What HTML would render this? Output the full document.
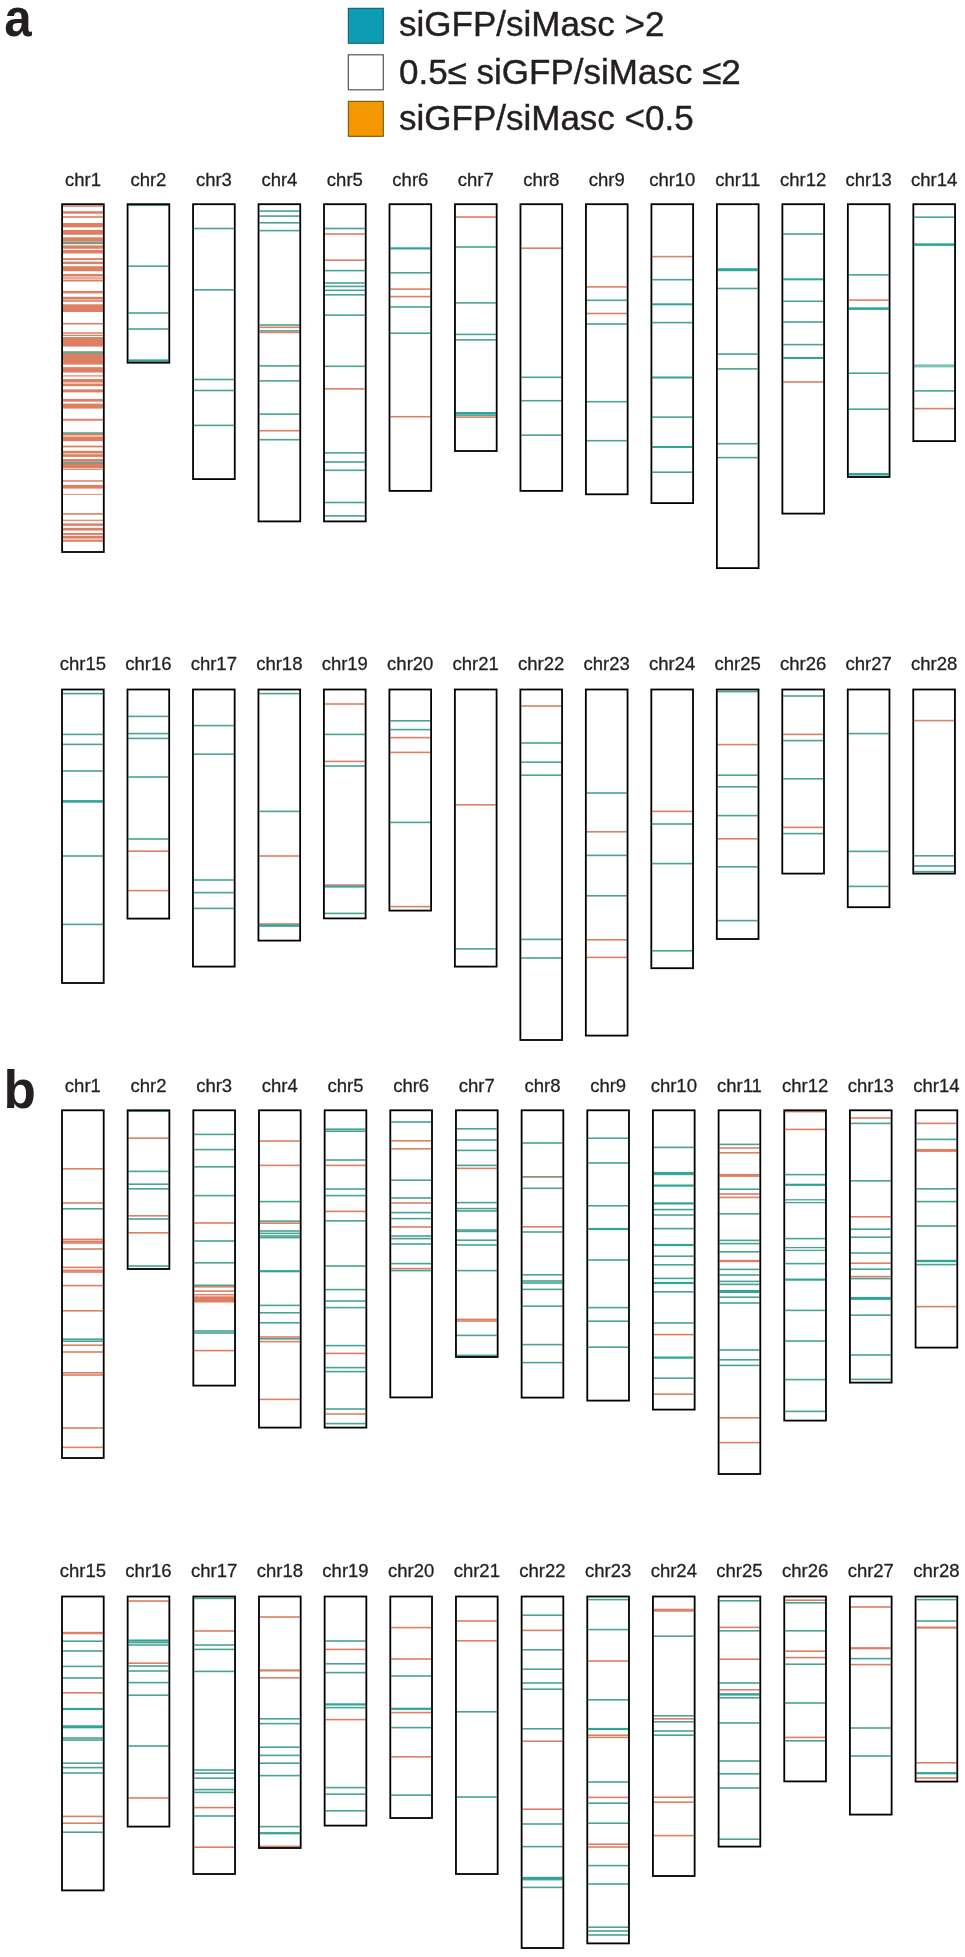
<!DOCTYPE html>
<html><head><meta charset="utf-8"><style>
html,body{margin:0;padding:0;background:#fff;width:965px;height:1957px;overflow:hidden}
svg{display:block;will-change:transform}
.lb{font-family:"Liberation Sans",sans-serif;font-size:18.5px;fill:#231f20;stroke:#231f20;stroke-width:0.3px;text-anchor:middle}
.lg{font-family:"Liberation Sans",sans-serif;font-size:35px;fill:#231f20;stroke:#231f20;stroke-width:0.4px}
.pl{font-family:"Liberation Sans",sans-serif;font-size:53px;font-weight:bold;fill:#231f20}
.bx{fill:none;stroke:#000;stroke-width:1.8}
</style></head><body>
<svg width="965" height="1957" viewBox="0 0 965 1957">

<rect x="348.3" y="8.3" width="35" height="35" fill="#0e9bb4" stroke="#0b5566" stroke-width="1"/>
<rect x="348.3" y="54.8" width="35" height="35" fill="#fff" stroke="#555" stroke-width="1.2"/>
<rect x="348.3" y="101.3" width="35" height="35" fill="#f39800" stroke="#6b4a10" stroke-width="1"/>
<text x="399" y="36.4" class="lg">siGFP/siMasc &gt;2</text>
<text x="399" y="83.6" class="lg">0.5≤ siGFP/siMasc ≤2</text>
<text x="399" y="130" class="lg">siGFP/siMasc &lt;0.5</text>
<text x="0" y="36" class="pl" transform="translate(4.3,0) scale(0.93,1)">a</text>
<text x="3.5" y="1108" class="pl">b</text>

<text x="82.95" y="186.4" class="lb">chr1</text>
<rect x="63" y="205.3" width="39.9" height="1.5" fill="#de7f64"/>
<rect x="63" y="211.2" width="39.9" height="2.5" fill="#de7f64"/>
<rect x="63" y="215.9" width="39.9" height="2.1" fill="#e9957e"/>
<rect x="63" y="223" width="39.9" height="4.4" fill="#de7f64"/>
<rect x="63" y="229.9" width="39.9" height="4.9" fill="#de7f64"/>
<rect x="63" y="237.3" width="39.9" height="4.1" fill="#de7f64"/>
<rect x="63" y="241.4" width="39.9" height="2.8" fill="#7d9c86"/>
<rect x="63" y="245.4" width="39.9" height="3.4" fill="#de7f64"/>
<rect x="63" y="250" width="39.9" height="3.5" fill="#de7f64"/>
<rect x="63" y="258.1" width="39.9" height="1.9" fill="#de7f64"/>
<rect x="63" y="261.6" width="39.9" height="2.5" fill="#de7f64"/>
<rect x="63" y="266.2" width="39.9" height="5" fill="#de7f64"/>
<rect x="63" y="274" width="39.9" height="2.5" fill="#de7f64"/>
<rect x="63" y="277.4" width="39.9" height="1.3" fill="#de7f64"/>
<rect x="63" y="279.6" width="39.9" height="1.9" fill="#de7f64"/>
<rect x="63" y="290.9" width="39.9" height="2.5" fill="#de7f64"/>
<rect x="63" y="296.8" width="39.9" height="2.8" fill="#de7f64"/>
<rect x="63" y="300.2" width="39.9" height="1.6" fill="#de7f64"/>
<rect x="63" y="304.3" width="39.9" height="7.7" fill="#de7f64"/>
<rect x="63" y="322.9" width="39.9" height="1.6" fill="#de7f64"/>
<rect x="63" y="332.3" width="39.9" height="1.5" fill="#de7f64"/>
<rect x="63" y="334.8" width="39.9" height="1.2" fill="#de7f64"/>
<rect x="63" y="337" width="39.9" height="9.6" fill="#de7f64"/>
<rect x="63" y="351.2" width="39.9" height="2.8" fill="#7d9c86"/>
<rect x="63" y="354" width="39.9" height="10.6" fill="#de7f64"/>
<rect x="63" y="367.1" width="39.9" height="5.4" fill="#de7f64"/>
<rect x="63" y="375.3" width="39.9" height="1.2" fill="#de7f64"/>
<rect x="63" y="379" width="39.9" height="3.5" fill="#de7f64"/>
<rect x="63" y="383.5" width="39.9" height="2.7" fill="#de7f64"/>
<rect x="63" y="389.3" width="39.9" height="3.1" fill="#de7f64"/>
<rect x="63" y="398.9" width="39.9" height="2.8" fill="#de7f64"/>
<rect x="63" y="403.6" width="39.9" height="5" fill="#de7f64"/>
<rect x="63" y="418.8" width="39.9" height="1.9" fill="#de7f64"/>
<rect x="63" y="432.2" width="39.9" height="1.8" fill="#7d9c86"/>
<rect x="63" y="434" width="39.9" height="1.5" fill="#de7f64"/>
<rect x="63" y="436.5" width="39.9" height="4.7" fill="#de7f64"/>
<rect x="63" y="445.6" width="39.9" height="1.8" fill="#de7f64"/>
<rect x="63" y="450.8" width="39.9" height="2.7" fill="#de7f64"/>
<rect x="63" y="454.2" width="39.9" height="2.7" fill="#de7f64"/>
<rect x="63" y="459" width="39.9" height="2.8" fill="#de7f64"/>
<rect x="63" y="461.8" width="39.9" height="2.2" fill="#7d9c86"/>
<rect x="63" y="464" width="39.9" height="4.4" fill="#de7f64"/>
<rect x="63" y="469" width="39.9" height="0.9" fill="#de7f64"/>
<rect x="63" y="480.2" width="39.9" height="1.5" fill="#de7f64"/>
<rect x="63" y="484.9" width="39.9" height="3.7" fill="#de7f64"/>
<rect x="63" y="493.9" width="39.9" height="0.9" fill="#de7f64"/>
<rect x="63" y="513.1" width="39.9" height="1.6" fill="#de7f64"/>
<rect x="63" y="519.7" width="39.9" height="1.2" fill="#de7f64"/>
<rect x="63" y="523.4" width="39.9" height="2.5" fill="#de7f64"/>
<rect x="63" y="527.8" width="39.9" height="2.8" fill="#de7f64"/>
<rect x="63" y="533" width="39.9" height="1.9" fill="#de7f64"/>
<rect x="63" y="535.8" width="39.9" height="2.8" fill="#de7f64"/>
<rect x="63" y="539.6" width="39.9" height="2.2" fill="#de7f64"/>
<rect x="62.1" y="204.2" width="41.7" height="347.8" class="bx"/>
<text x="148.43" y="186.4" class="lb">chr2</text>
<rect x="128.48" y="204.5" width="39.9" height="1.6" fill="#48a494"/>
<rect x="128.48" y="265.4" width="39.9" height="1.6" fill="#48a494"/>
<rect x="128.48" y="312.2" width="39.9" height="1.6" fill="#48a494"/>
<rect x="128.48" y="328.2" width="39.9" height="1.6" fill="#48a494"/>
<rect x="128.48" y="359.35" width="39.9" height="2.5" fill="#2ea597"/>
<rect x="127.58" y="204.2" width="41.7" height="158.5" class="bx"/>
<text x="213.91" y="186.4" class="lb">chr3</text>
<rect x="193.96" y="227.7" width="39.9" height="1.6" fill="#48a494"/>
<rect x="193.96" y="289.1" width="39.9" height="1.6" fill="#48a494"/>
<rect x="193.96" y="378.7" width="39.9" height="1.6" fill="#48a494"/>
<rect x="193.96" y="389.7" width="39.9" height="1.6" fill="#48a494"/>
<rect x="193.96" y="424.6" width="39.9" height="1.6" fill="#48a494"/>
<rect x="193.06" y="204.2" width="41.7" height="274.9" class="bx"/>
<text x="279.39" y="186.4" class="lb">chr4</text>
<rect x="259.44" y="210.3" width="39.9" height="1.6" fill="#48a494"/>
<rect x="259.44" y="215.3" width="39.9" height="1.6" fill="#48a494"/>
<rect x="259.44" y="222" width="39.9" height="1.6" fill="#48a494"/>
<rect x="259.44" y="229.8" width="39.9" height="1.6" fill="#48a494"/>
<rect x="259.44" y="324.2" width="39.9" height="1.6" fill="#48a494"/>
<rect x="259.44" y="326.5" width="39.9" height="1.6" fill="#de7f64"/>
<rect x="259.44" y="330.1" width="39.9" height="1.6" fill="#48a494"/>
<rect x="259.44" y="331.6" width="39.9" height="1.6" fill="#de7f64"/>
<rect x="259.44" y="365.1" width="39.9" height="1.6" fill="#48a494"/>
<rect x="259.44" y="380.1" width="39.9" height="1.6" fill="#48a494"/>
<rect x="259.44" y="413.3" width="39.9" height="1.6" fill="#48a494"/>
<rect x="259.44" y="429.9" width="39.9" height="1.6" fill="#de7f64"/>
<rect x="259.44" y="438.9" width="39.9" height="1.6" fill="#48a494"/>
<rect x="258.54" y="204.2" width="41.7" height="317.2" class="bx"/>
<text x="344.87" y="186.4" class="lb">chr5</text>
<rect x="324.92" y="227.7" width="39.9" height="1.6" fill="#48a494"/>
<rect x="324.92" y="233.2" width="39.9" height="1.6" fill="#de7f64"/>
<rect x="324.92" y="259.4" width="39.9" height="1.6" fill="#de7f64"/>
<rect x="324.92" y="269.8" width="39.9" height="1.6" fill="#48a494"/>
<rect x="324.92" y="282.2" width="39.9" height="1.6" fill="#48a494"/>
<rect x="324.92" y="285.6" width="39.9" height="1.6" fill="#48a494"/>
<rect x="324.92" y="289.5" width="39.9" height="1.6" fill="#48a494"/>
<rect x="324.92" y="294" width="39.9" height="1.6" fill="#48a494"/>
<rect x="324.92" y="314.3" width="39.9" height="1.6" fill="#48a494"/>
<rect x="324.92" y="365.5" width="39.9" height="1.6" fill="#48a494"/>
<rect x="324.92" y="388.1" width="39.9" height="1.6" fill="#de7f64"/>
<rect x="324.92" y="452.1" width="39.9" height="1.6" fill="#48a494"/>
<rect x="324.92" y="461.2" width="39.9" height="1.6" fill="#48a494"/>
<rect x="324.92" y="469.5" width="39.9" height="1.6" fill="#48a494"/>
<rect x="324.92" y="501.7" width="39.9" height="1.6" fill="#48a494"/>
<rect x="324.92" y="515.1" width="39.9" height="1.6" fill="#48a494"/>
<rect x="324.02" y="204.2" width="41.7" height="317.2" class="bx"/>
<text x="410.35" y="186.4" class="lb">chr6</text>
<rect x="390.4" y="247.3" width="39.9" height="2.2" fill="#2ea597"/>
<rect x="390.4" y="272" width="39.9" height="1.6" fill="#48a494"/>
<rect x="390.4" y="288.3" width="39.9" height="1.6" fill="#de7f64"/>
<rect x="390.4" y="295.8" width="39.9" height="1.6" fill="#de7f64"/>
<rect x="390.4" y="306.2" width="39.9" height="1.6" fill="#48a494"/>
<rect x="390.4" y="332.4" width="39.9" height="1.6" fill="#48a494"/>
<rect x="390.4" y="415.9" width="39.9" height="1.6" fill="#de7f64"/>
<rect x="389.5" y="204.2" width="41.7" height="286.7" class="bx"/>
<text x="475.83" y="186.4" class="lb">chr7</text>
<rect x="455.88" y="216.2" width="39.9" height="1.6" fill="#de7f64"/>
<rect x="455.88" y="246.2" width="39.9" height="1.6" fill="#48a494"/>
<rect x="455.88" y="302.1" width="39.9" height="1.6" fill="#48a494"/>
<rect x="455.88" y="333.6" width="39.9" height="1.6" fill="#48a494"/>
<rect x="455.88" y="339.1" width="39.9" height="1.6" fill="#48a494"/>
<rect x="455.88" y="412" width="39.9" height="2.4" fill="#2ea597"/>
<rect x="455.88" y="414.3" width="39.9" height="1.6" fill="#48a494"/>
<rect x="455.88" y="416.3" width="39.9" height="1.6" fill="#de7f64"/>
<rect x="454.98" y="204.2" width="41.7" height="246.8" class="bx"/>
<text x="541.31" y="186.4" class="lb">chr8</text>
<rect x="521.36" y="247.4" width="39.9" height="1.6" fill="#de7f64"/>
<rect x="521.36" y="376.5" width="39.9" height="1.6" fill="#48a494"/>
<rect x="521.36" y="399.9" width="39.9" height="1.6" fill="#48a494"/>
<rect x="521.36" y="434.4" width="39.9" height="1.6" fill="#48a494"/>
<rect x="520.46" y="204.2" width="41.7" height="286.7" class="bx"/>
<text x="606.79" y="186.4" class="lb">chr9</text>
<rect x="586.84" y="286.1" width="39.9" height="1.6" fill="#de7f64"/>
<rect x="586.84" y="299.5" width="39.9" height="1.6" fill="#48a494"/>
<rect x="586.84" y="312.7" width="39.9" height="1.6" fill="#de7f64"/>
<rect x="586.84" y="323.2" width="39.9" height="1.6" fill="#48a494"/>
<rect x="586.84" y="400.9" width="39.9" height="1.6" fill="#48a494"/>
<rect x="586.84" y="439.9" width="39.9" height="1.6" fill="#48a494"/>
<rect x="585.94" y="204.2" width="41.7" height="290.1" class="bx"/>
<text x="672.27" y="186.4" class="lb">chr10</text>
<rect x="652.32" y="255.8" width="39.9" height="1.6" fill="#de7f64"/>
<rect x="652.32" y="278.9" width="39.9" height="1.6" fill="#48a494"/>
<rect x="652.32" y="303.3" width="39.9" height="2" fill="#2ea597"/>
<rect x="652.32" y="321.8" width="39.9" height="1.6" fill="#48a494"/>
<rect x="652.32" y="376.5" width="39.9" height="2" fill="#2ea597"/>
<rect x="652.32" y="416.3" width="39.9" height="1.6" fill="#48a494"/>
<rect x="652.32" y="446" width="39.9" height="2" fill="#2ea597"/>
<rect x="652.32" y="471.4" width="39.9" height="1.6" fill="#48a494"/>
<rect x="651.42" y="204.2" width="41.7" height="298.9" class="bx"/>
<text x="737.75" y="186.4" class="lb">chr11</text>
<rect x="717.8" y="268.2" width="39.9" height="3" fill="#2ea597"/>
<rect x="717.8" y="287.7" width="39.9" height="1.6" fill="#48a494"/>
<rect x="717.8" y="353.3" width="39.9" height="1.6" fill="#48a494"/>
<rect x="717.8" y="368.1" width="39.9" height="1.6" fill="#48a494"/>
<rect x="717.8" y="442.9" width="39.9" height="1.6" fill="#48a494"/>
<rect x="717.8" y="456.8" width="39.9" height="1.6" fill="#48a494"/>
<rect x="716.9" y="204.2" width="41.7" height="363.9" class="bx"/>
<text x="803.23" y="186.4" class="lb">chr12</text>
<rect x="783.28" y="233.2" width="39.9" height="1.6" fill="#48a494"/>
<rect x="783.28" y="278.3" width="39.9" height="2" fill="#2ea597"/>
<rect x="783.28" y="300.5" width="39.9" height="1.6" fill="#48a494"/>
<rect x="783.28" y="321.2" width="39.9" height="1.6" fill="#48a494"/>
<rect x="783.28" y="343.8" width="39.9" height="1.6" fill="#48a494"/>
<rect x="783.28" y="357" width="39.9" height="2" fill="#2ea597"/>
<rect x="783.28" y="381.2" width="39.9" height="1.6" fill="#de7f64"/>
<rect x="782.38" y="204.2" width="41.7" height="309.4" class="bx"/>
<text x="868.71" y="186.4" class="lb">chr13</text>
<rect x="848.76" y="274.1" width="39.9" height="1.6" fill="#48a494"/>
<rect x="848.76" y="299.3" width="39.9" height="1.6" fill="#de7f64"/>
<rect x="848.76" y="307.3" width="39.9" height="2.6" fill="#2ea597"/>
<rect x="848.76" y="372.4" width="39.9" height="1.6" fill="#48a494"/>
<rect x="848.76" y="408.4" width="39.9" height="1.6" fill="#48a494"/>
<rect x="848.76" y="473" width="39.9" height="2.6" fill="#2ea597"/>
<rect x="847.86" y="204.2" width="41.7" height="272.8" class="bx"/>
<text x="934.19" y="186.4" class="lb">chr14</text>
<rect x="914.24" y="216.4" width="39.9" height="1.6" fill="#48a494"/>
<rect x="914.24" y="243.3" width="39.9" height="2.6" fill="#2ea597"/>
<rect x="914.24" y="364.4" width="39.9" height="3" fill="#79c2b5"/>
<rect x="914.24" y="390.1" width="39.9" height="1.6" fill="#48a494"/>
<rect x="914.24" y="407.8" width="39.9" height="1.6" fill="#de7f64"/>
<rect x="913.34" y="204.2" width="41.7" height="236.9" class="bx"/>
<text x="82.85" y="669.7" class="lb">chr15</text>
<rect x="62.9" y="692.8" width="39.9" height="1.6" fill="#48a494"/>
<rect x="62.9" y="733.6" width="39.9" height="1.6" fill="#48a494"/>
<rect x="62.9" y="743.6" width="39.9" height="1.6" fill="#48a494"/>
<rect x="62.9" y="770.2" width="39.9" height="1.6" fill="#48a494"/>
<rect x="62.9" y="800.1" width="39.9" height="2.6" fill="#2ea597"/>
<rect x="62.9" y="855.2" width="39.9" height="1.6" fill="#48a494"/>
<rect x="62.9" y="923.6" width="39.9" height="1.6" fill="#48a494"/>
<rect x="62" y="689.5" width="41.7" height="293.5" class="bx"/>
<text x="148.33" y="669.7" class="lb">chr16</text>
<rect x="128.38" y="715.6" width="39.9" height="1.6" fill="#48a494"/>
<rect x="128.38" y="732.8" width="39.9" height="1.6" fill="#48a494"/>
<rect x="128.38" y="737.6" width="39.9" height="1.6" fill="#48a494"/>
<rect x="128.38" y="776.2" width="39.9" height="1.6" fill="#48a494"/>
<rect x="128.38" y="838.2" width="39.9" height="1.6" fill="#48a494"/>
<rect x="128.38" y="850.4" width="39.9" height="1.6" fill="#de7f64"/>
<rect x="128.38" y="889.8" width="39.9" height="1.6" fill="#de7f64"/>
<rect x="127.48" y="689.5" width="41.7" height="229.1" class="bx"/>
<text x="213.81" y="669.7" class="lb">chr17</text>
<rect x="193.86" y="724.8" width="39.9" height="1.6" fill="#48a494"/>
<rect x="193.86" y="753.4" width="39.9" height="1.6" fill="#48a494"/>
<rect x="193.86" y="879.2" width="39.9" height="1.6" fill="#48a494"/>
<rect x="193.86" y="891.8" width="39.9" height="1.6" fill="#48a494"/>
<rect x="193.86" y="907.6" width="39.9" height="1.6" fill="#48a494"/>
<rect x="192.96" y="689.5" width="41.7" height="277.1" class="bx"/>
<text x="279.29" y="669.7" class="lb">chr18</text>
<rect x="259.34" y="692.8" width="39.9" height="1.6" fill="#48a494"/>
<rect x="259.34" y="810.6" width="39.9" height="1.6" fill="#48a494"/>
<rect x="259.34" y="855.2" width="39.9" height="1.6" fill="#de7f64"/>
<rect x="259.34" y="923.2" width="39.9" height="1.6" fill="#de7f64"/>
<rect x="259.34" y="924.4" width="39.9" height="2.4" fill="#2ea597"/>
<rect x="258.44" y="689.5" width="41.7" height="251.1" class="bx"/>
<text x="344.77" y="669.7" class="lb">chr19</text>
<rect x="324.82" y="703.2" width="39.9" height="1.6" fill="#de7f64"/>
<rect x="324.82" y="733.6" width="39.9" height="1.6" fill="#48a494"/>
<rect x="324.82" y="760.6" width="39.9" height="1.6" fill="#de7f64"/>
<rect x="324.82" y="765.2" width="39.9" height="1.6" fill="#48a494"/>
<rect x="324.82" y="884.2" width="39.9" height="1.6" fill="#de7f64"/>
<rect x="324.82" y="885.6" width="39.9" height="2" fill="#2ea597"/>
<rect x="324.82" y="912.6" width="39.9" height="1.6" fill="#48a494"/>
<rect x="323.92" y="689.5" width="41.7" height="228.9" class="bx"/>
<text x="410.25" y="669.7" class="lb">chr20</text>
<rect x="390.3" y="720" width="39.9" height="1.6" fill="#48a494"/>
<rect x="390.3" y="728.8" width="39.9" height="1.6" fill="#48a494"/>
<rect x="390.3" y="736.8" width="39.9" height="1.6" fill="#de7f64"/>
<rect x="390.3" y="751.6" width="39.9" height="1.6" fill="#de7f64"/>
<rect x="390.3" y="821.6" width="39.9" height="1.6" fill="#48a494"/>
<rect x="390.3" y="905.8" width="39.9" height="1.6" fill="#de7f64"/>
<rect x="389.4" y="689.5" width="41.7" height="221.1" class="bx"/>
<text x="475.73" y="669.7" class="lb">chr21</text>
<rect x="455.78" y="804" width="39.9" height="1.6" fill="#de7f64"/>
<rect x="455.78" y="948" width="39.9" height="1.6" fill="#48a494"/>
<rect x="454.88" y="689.5" width="41.7" height="277.1" class="bx"/>
<text x="541.21" y="669.7" class="lb">chr22</text>
<rect x="521.26" y="705.2" width="39.9" height="1.6" fill="#de7f64"/>
<rect x="521.26" y="742.2" width="39.9" height="1.6" fill="#48a494"/>
<rect x="521.26" y="761.4" width="39.9" height="1.6" fill="#48a494"/>
<rect x="521.26" y="774.4" width="39.9" height="1.6" fill="#48a494"/>
<rect x="521.26" y="938.6" width="39.9" height="1.6" fill="#48a494"/>
<rect x="521.26" y="957.2" width="39.9" height="1.6" fill="#48a494"/>
<rect x="520.36" y="689.5" width="41.7" height="350.5" class="bx"/>
<text x="606.69" y="669.7" class="lb">chr23</text>
<rect x="586.74" y="792.2" width="39.9" height="1.6" fill="#48a494"/>
<rect x="586.74" y="831" width="39.9" height="1.6" fill="#de7f64"/>
<rect x="586.74" y="854.6" width="39.9" height="1.6" fill="#48a494"/>
<rect x="586.74" y="895" width="39.9" height="1.6" fill="#48a494"/>
<rect x="586.74" y="939" width="39.9" height="1.6" fill="#de7f64"/>
<rect x="586.74" y="956.6" width="39.9" height="1.6" fill="#de7f64"/>
<rect x="585.84" y="689.5" width="41.7" height="346.1" class="bx"/>
<text x="672.17" y="669.7" class="lb">chr24</text>
<rect x="652.22" y="810.6" width="39.9" height="1.6" fill="#de7f64"/>
<rect x="652.22" y="823.2" width="39.9" height="1.6" fill="#48a494"/>
<rect x="652.22" y="862.8" width="39.9" height="1.6" fill="#48a494"/>
<rect x="652.22" y="950" width="39.9" height="1.6" fill="#48a494"/>
<rect x="651.32" y="689.5" width="41.7" height="278.7" class="bx"/>
<text x="737.65" y="669.7" class="lb">chr25</text>
<rect x="717.7" y="690.8" width="39.9" height="1.6" fill="#48a494"/>
<rect x="717.7" y="743.8" width="39.9" height="1.6" fill="#de7f64"/>
<rect x="717.7" y="774.4" width="39.9" height="1.6" fill="#48a494"/>
<rect x="717.7" y="786" width="39.9" height="1.6" fill="#48a494"/>
<rect x="717.7" y="814.8" width="39.9" height="1.6" fill="#48a494"/>
<rect x="717.7" y="838" width="39.9" height="1.6" fill="#de7f64"/>
<rect x="717.7" y="866" width="39.9" height="1.6" fill="#48a494"/>
<rect x="717.7" y="919.8" width="39.9" height="1.6" fill="#48a494"/>
<rect x="716.8" y="689.5" width="41.7" height="249.5" class="bx"/>
<text x="803.13" y="669.7" class="lb">chr26</text>
<rect x="783.18" y="695.2" width="39.9" height="1.6" fill="#48a494"/>
<rect x="783.18" y="733.6" width="39.9" height="1.6" fill="#de7f64"/>
<rect x="783.18" y="739.8" width="39.9" height="1.6" fill="#48a494"/>
<rect x="783.18" y="778" width="39.9" height="1.6" fill="#48a494"/>
<rect x="783.18" y="826.6" width="39.9" height="1.6" fill="#de7f64"/>
<rect x="783.18" y="832.8" width="39.9" height="1.6" fill="#48a494"/>
<rect x="782.28" y="689.5" width="41.7" height="184.1" class="bx"/>
<text x="868.61" y="669.7" class="lb">chr27</text>
<rect x="848.66" y="732.8" width="39.9" height="1.6" fill="#48a494"/>
<rect x="848.66" y="850.6" width="39.9" height="1.6" fill="#48a494"/>
<rect x="848.66" y="885.6" width="39.9" height="1.6" fill="#48a494"/>
<rect x="847.76" y="689.5" width="41.7" height="217.7" class="bx"/>
<text x="934.09" y="669.7" class="lb">chr28</text>
<rect x="914.14" y="719.8" width="39.9" height="1.6" fill="#de7f64"/>
<rect x="914.14" y="855" width="39.9" height="1.6" fill="#48a494"/>
<rect x="914.14" y="865.2" width="39.9" height="1.6" fill="#48a494"/>
<rect x="914.14" y="870.8" width="39.9" height="1.6" fill="#48a494"/>
<rect x="913.24" y="689.5" width="41.7" height="184.1" class="bx"/>
<text x="82.85" y="1091.5" class="lb">chr1</text>
<rect x="62.9" y="1168" width="39.9" height="1.6" fill="#de7f64"/>
<rect x="62.9" y="1202.2" width="39.9" height="1.6" fill="#de7f64"/>
<rect x="62.9" y="1208" width="39.9" height="1.6" fill="#48a494"/>
<rect x="62.9" y="1238.6" width="39.9" height="1.6" fill="#de7f64"/>
<rect x="62.9" y="1240.6" width="39.9" height="1.6" fill="#de7f64"/>
<rect x="62.9" y="1242.2" width="39.9" height="1.6" fill="#de7f64"/>
<rect x="62.9" y="1248.2" width="39.9" height="1.6" fill="#de7f64"/>
<rect x="62.9" y="1266.6" width="39.9" height="1.6" fill="#de7f64"/>
<rect x="62.9" y="1269.6" width="39.9" height="1.6" fill="#de7f64"/>
<rect x="62.9" y="1271.2" width="39.9" height="1.6" fill="#de7f64"/>
<rect x="62.9" y="1284.8" width="39.9" height="1.6" fill="#de7f64"/>
<rect x="62.9" y="1310" width="39.9" height="1.6" fill="#de7f64"/>
<rect x="62.9" y="1338.4" width="39.9" height="1.6" fill="#48a494"/>
<rect x="62.9" y="1340.4" width="39.9" height="1.6" fill="#48a494"/>
<rect x="62.9" y="1344.4" width="39.9" height="1.6" fill="#de7f64"/>
<rect x="62.9" y="1351.2" width="39.9" height="1.6" fill="#de7f64"/>
<rect x="62.9" y="1372" width="39.9" height="1.6" fill="#de7f64"/>
<rect x="62.9" y="1374.2" width="39.9" height="1.6" fill="#de7f64"/>
<rect x="62.9" y="1427.2" width="39.9" height="1.6" fill="#de7f64"/>
<rect x="62.9" y="1446.6" width="39.9" height="1.6" fill="#de7f64"/>
<rect x="62" y="1110.3" width="41.7" height="347.7" class="bx"/>
<text x="148.51" y="1091.5" class="lb">chr2</text>
<rect x="128.56" y="1110.4" width="39.9" height="1.6" fill="#48a494"/>
<rect x="128.56" y="1137.4" width="39.9" height="1.6" fill="#de7f64"/>
<rect x="128.56" y="1170.6" width="39.9" height="1.6" fill="#48a494"/>
<rect x="128.56" y="1183.4" width="39.9" height="1.6" fill="#48a494"/>
<rect x="128.56" y="1188" width="39.9" height="1.6" fill="#48a494"/>
<rect x="128.56" y="1215" width="39.9" height="1.6" fill="#de7f64"/>
<rect x="128.56" y="1218.2" width="39.9" height="1.6" fill="#48a494"/>
<rect x="128.56" y="1232" width="39.9" height="1.6" fill="#de7f64"/>
<rect x="128.56" y="1265.2" width="39.9" height="1.6" fill="#48a494"/>
<rect x="127.66" y="1110.3" width="41.7" height="158.7" class="bx"/>
<text x="214.17" y="1091.5" class="lb">chr3</text>
<rect x="194.22" y="1133.6" width="39.9" height="1.6" fill="#48a494"/>
<rect x="194.22" y="1148.8" width="39.9" height="1.6" fill="#48a494"/>
<rect x="194.22" y="1166" width="39.9" height="1.6" fill="#48a494"/>
<rect x="194.22" y="1194.8" width="39.9" height="1.6" fill="#48a494"/>
<rect x="194.22" y="1222.2" width="39.9" height="1.6" fill="#de7f64"/>
<rect x="194.22" y="1240.2" width="39.9" height="1.6" fill="#48a494"/>
<rect x="194.22" y="1262" width="39.9" height="1.6" fill="#48a494"/>
<rect x="194.22" y="1284.5" width="39.9" height="1.6" fill="#48a494"/>
<rect x="194.22" y="1286" width="39.9" height="1.6" fill="#de7f64"/>
<rect x="194.22" y="1290.3" width="39.9" height="1.6" fill="#de7f64"/>
<rect x="194.22" y="1294" width="39.9" height="1.2" fill="#de7f64"/>
<rect x="194.22" y="1295.6" width="39.9" height="1.2" fill="#e9957e"/>
<rect x="194.22" y="1296.9" width="39.9" height="5.6" fill="#de7f64"/>
<rect x="194.22" y="1330.2" width="39.9" height="1.6" fill="#48a494"/>
<rect x="194.22" y="1332.2" width="39.9" height="1.6" fill="#48a494"/>
<rect x="194.22" y="1349.8" width="39.9" height="1.6" fill="#de7f64"/>
<rect x="193.32" y="1110.3" width="41.7" height="275.3" class="bx"/>
<text x="279.83" y="1091.5" class="lb">chr4</text>
<rect x="259.88" y="1140.2" width="39.9" height="1.6" fill="#de7f64"/>
<rect x="259.88" y="1164.6" width="39.9" height="1.6" fill="#de7f64"/>
<rect x="259.88" y="1200.8" width="39.9" height="1.6" fill="#48a494"/>
<rect x="259.88" y="1220.4" width="39.9" height="1.6" fill="#48a494"/>
<rect x="259.88" y="1222.4" width="39.9" height="1.6" fill="#de7f64"/>
<rect x="259.88" y="1230.2" width="39.9" height="1.6" fill="#48a494"/>
<rect x="259.88" y="1232.6" width="39.9" height="1.6" fill="#48a494"/>
<rect x="259.88" y="1235.2" width="39.9" height="1.6" fill="#48a494"/>
<rect x="259.88" y="1236.8" width="39.9" height="1.6" fill="#48a494"/>
<rect x="259.88" y="1270.1" width="39.9" height="2.2" fill="#2ea597"/>
<rect x="259.88" y="1304.6" width="39.9" height="1.6" fill="#48a494"/>
<rect x="259.88" y="1312" width="39.9" height="1.6" fill="#48a494"/>
<rect x="259.88" y="1322" width="39.9" height="1.6" fill="#48a494"/>
<rect x="259.88" y="1336.2" width="39.9" height="1.6" fill="#de7f64"/>
<rect x="259.88" y="1338" width="39.9" height="1.6" fill="#48a494"/>
<rect x="259.88" y="1340.8" width="39.9" height="1.6" fill="#de7f64"/>
<rect x="259.88" y="1398.6" width="39.9" height="1.6" fill="#de7f64"/>
<rect x="258.98" y="1110.3" width="41.7" height="317.3" class="bx"/>
<text x="345.49" y="1091.5" class="lb">chr5</text>
<rect x="325.54" y="1128.4" width="39.9" height="1.6" fill="#48a494"/>
<rect x="325.54" y="1130.4" width="39.9" height="1.6" fill="#48a494"/>
<rect x="325.54" y="1159.2" width="39.9" height="1.6" fill="#48a494"/>
<rect x="325.54" y="1164.6" width="39.9" height="1.6" fill="#de7f64"/>
<rect x="325.54" y="1188.2" width="39.9" height="1.6" fill="#48a494"/>
<rect x="325.54" y="1194.8" width="39.9" height="1.6" fill="#48a494"/>
<rect x="325.54" y="1210.6" width="39.9" height="1.6" fill="#de7f64"/>
<rect x="325.54" y="1220" width="39.9" height="1.6" fill="#48a494"/>
<rect x="325.54" y="1265.2" width="39.9" height="1.6" fill="#48a494"/>
<rect x="325.54" y="1288.8" width="39.9" height="1.6" fill="#48a494"/>
<rect x="325.54" y="1300.2" width="39.9" height="1.6" fill="#48a494"/>
<rect x="325.54" y="1306.8" width="39.9" height="1.6" fill="#48a494"/>
<rect x="325.54" y="1344.8" width="39.9" height="1.6" fill="#48a494"/>
<rect x="325.54" y="1352.6" width="39.9" height="1.6" fill="#de7f64"/>
<rect x="325.54" y="1366.8" width="39.9" height="1.6" fill="#48a494"/>
<rect x="325.54" y="1370.8" width="39.9" height="1.6" fill="#48a494"/>
<rect x="325.54" y="1408.2" width="39.9" height="1.6" fill="#48a494"/>
<rect x="325.54" y="1413.2" width="39.9" height="1.6" fill="#de7f64"/>
<rect x="325.54" y="1422.8" width="39.9" height="1.6" fill="#48a494"/>
<rect x="324.64" y="1110.3" width="41.7" height="317.3" class="bx"/>
<text x="411.15" y="1091.5" class="lb">chr6</text>
<rect x="391.2" y="1121.2" width="39.9" height="1.6" fill="#48a494"/>
<rect x="391.2" y="1140" width="39.9" height="1.6" fill="#de7f64"/>
<rect x="391.2" y="1148" width="39.9" height="1.6" fill="#de7f64"/>
<rect x="391.2" y="1179.4" width="39.9" height="1.6" fill="#48a494"/>
<rect x="391.2" y="1197.2" width="39.9" height="1.6" fill="#48a494"/>
<rect x="391.2" y="1202.2" width="39.9" height="1.6" fill="#de7f64"/>
<rect x="391.2" y="1211.8" width="39.9" height="1.6" fill="#48a494"/>
<rect x="391.2" y="1217.8" width="39.9" height="1.6" fill="#48a494"/>
<rect x="391.2" y="1226.2" width="39.9" height="1.6" fill="#de7f64"/>
<rect x="391.2" y="1235.2" width="39.9" height="1.6" fill="#48a494"/>
<rect x="391.2" y="1237.8" width="39.9" height="1.6" fill="#48a494"/>
<rect x="391.2" y="1243.2" width="39.9" height="1.6" fill="#48a494"/>
<rect x="391.2" y="1262.8" width="39.9" height="1.6" fill="#48a494"/>
<rect x="391.2" y="1267.8" width="39.9" height="1.6" fill="#de7f64"/>
<rect x="391.2" y="1269.8" width="39.9" height="1.6" fill="#48a494"/>
<rect x="390.3" y="1110.3" width="41.7" height="287.1" class="bx"/>
<text x="476.81" y="1091.5" class="lb">chr7</text>
<rect x="456.86" y="1128" width="39.9" height="1.6" fill="#48a494"/>
<rect x="456.86" y="1139.2" width="39.9" height="1.6" fill="#48a494"/>
<rect x="456.86" y="1149.6" width="39.9" height="1.6" fill="#48a494"/>
<rect x="456.86" y="1164.6" width="39.9" height="1.6" fill="#48a494"/>
<rect x="456.86" y="1167.6" width="39.9" height="1.6" fill="#de7f64"/>
<rect x="456.86" y="1201.8" width="39.9" height="1.6" fill="#48a494"/>
<rect x="456.86" y="1207.8" width="39.9" height="1.6" fill="#48a494"/>
<rect x="456.86" y="1210.2" width="39.9" height="1.6" fill="#48a494"/>
<rect x="456.86" y="1229.2" width="39.9" height="1.6" fill="#48a494"/>
<rect x="456.86" y="1230.6" width="39.9" height="1.6" fill="#48a494"/>
<rect x="456.86" y="1239.4" width="39.9" height="1.6" fill="#48a494"/>
<rect x="456.86" y="1244.2" width="39.9" height="1.6" fill="#48a494"/>
<rect x="456.86" y="1269.8" width="39.9" height="1.6" fill="#48a494"/>
<rect x="456.86" y="1318.6" width="39.9" height="1.6" fill="#de7f64"/>
<rect x="456.86" y="1320.2" width="39.9" height="1.6" fill="#de7f64"/>
<rect x="456.86" y="1334.6" width="39.9" height="1.6" fill="#48a494"/>
<rect x="456.86" y="1354.6" width="39.9" height="1.6" fill="#48a494"/>
<rect x="455.96" y="1110.3" width="41.7" height="246.7" class="bx"/>
<text x="542.47" y="1091.5" class="lb">chr8</text>
<rect x="522.52" y="1142.2" width="39.9" height="1.6" fill="#48a494"/>
<rect x="522.52" y="1176.1" width="39.9" height="1.6" fill="#8c8070"/>
<rect x="522.52" y="1187.5" width="39.9" height="1.6" fill="#48a494"/>
<rect x="522.52" y="1226" width="39.9" height="1.6" fill="#de7f64"/>
<rect x="522.52" y="1231.2" width="39.9" height="1.6" fill="#48a494"/>
<rect x="522.52" y="1274" width="39.9" height="1.6" fill="#48a494"/>
<rect x="522.52" y="1280.2" width="39.9" height="1.6" fill="#48a494"/>
<rect x="522.52" y="1282.2" width="39.9" height="1.6" fill="#48a494"/>
<rect x="522.52" y="1288.6" width="39.9" height="1.6" fill="#48a494"/>
<rect x="522.52" y="1305.4" width="39.9" height="1.6" fill="#48a494"/>
<rect x="522.52" y="1343.8" width="39.9" height="1.6" fill="#48a494"/>
<rect x="522.52" y="1361.8" width="39.9" height="1.6" fill="#48a494"/>
<rect x="521.62" y="1110.3" width="41.7" height="287.3" class="bx"/>
<text x="608.13" y="1091.5" class="lb">chr9</text>
<rect x="588.18" y="1137.4" width="39.9" height="1.6" fill="#48a494"/>
<rect x="588.18" y="1162.2" width="39.9" height="1.6" fill="#48a494"/>
<rect x="588.18" y="1205" width="39.9" height="1.6" fill="#48a494"/>
<rect x="588.18" y="1227.9" width="39.9" height="2.2" fill="#2ea597"/>
<rect x="588.18" y="1259.2" width="39.9" height="1.6" fill="#48a494"/>
<rect x="588.18" y="1306.8" width="39.9" height="1.6" fill="#48a494"/>
<rect x="588.18" y="1320.4" width="39.9" height="1.6" fill="#48a494"/>
<rect x="588.18" y="1346.4" width="39.9" height="1.6" fill="#48a494"/>
<rect x="587.28" y="1110.3" width="41.7" height="290.3" class="bx"/>
<text x="673.79" y="1091.5" class="lb">chr10</text>
<rect x="653.84" y="1146.6" width="39.9" height="1.6" fill="#48a494"/>
<rect x="653.84" y="1171.9" width="39.9" height="2.2" fill="#2ea597"/>
<rect x="653.84" y="1173.6" width="39.9" height="1.6" fill="#48a494"/>
<rect x="653.84" y="1184.5" width="39.9" height="2.2" fill="#2ea597"/>
<rect x="653.84" y="1202.3" width="39.9" height="2.2" fill="#2ea597"/>
<rect x="653.84" y="1208.8" width="39.9" height="1.6" fill="#48a494"/>
<rect x="653.84" y="1214.2" width="39.9" height="1.6" fill="#48a494"/>
<rect x="653.84" y="1227.8" width="39.9" height="1.6" fill="#48a494"/>
<rect x="653.84" y="1243.9" width="39.9" height="2.2" fill="#2ea597"/>
<rect x="653.84" y="1255.4" width="39.9" height="1.6" fill="#48a494"/>
<rect x="653.84" y="1264" width="39.9" height="1.6" fill="#48a494"/>
<rect x="653.84" y="1277.6" width="39.9" height="1.6" fill="#48a494"/>
<rect x="653.84" y="1281.9" width="39.9" height="2.2" fill="#2ea597"/>
<rect x="653.84" y="1291" width="39.9" height="1.6" fill="#48a494"/>
<rect x="653.84" y="1322.2" width="39.9" height="1.6" fill="#48a494"/>
<rect x="653.84" y="1333.8" width="39.9" height="1.6" fill="#de7f64"/>
<rect x="653.84" y="1356.5" width="39.9" height="2.2" fill="#2ea597"/>
<rect x="653.84" y="1377.4" width="39.9" height="1.6" fill="#48a494"/>
<rect x="653.84" y="1393.4" width="39.9" height="1.6" fill="#de7f64"/>
<rect x="652.94" y="1110.3" width="41.7" height="299.3" class="bx"/>
<text x="739.45" y="1091.5" class="lb">chr11</text>
<rect x="719.5" y="1143.6" width="39.9" height="1.6" fill="#48a494"/>
<rect x="719.5" y="1147.2" width="39.9" height="1.6" fill="#de7f64"/>
<rect x="719.5" y="1152" width="39.9" height="1.6" fill="#de7f64"/>
<rect x="719.5" y="1173.9" width="39.9" height="3" fill="#de7f64"/>
<rect x="719.5" y="1188.4" width="39.9" height="1.6" fill="#48a494"/>
<rect x="719.5" y="1193.2" width="39.9" height="1.6" fill="#de7f64"/>
<rect x="719.5" y="1196.6" width="39.9" height="1.6" fill="#de7f64"/>
<rect x="719.5" y="1213" width="39.9" height="1.6" fill="#48a494"/>
<rect x="719.5" y="1239.6" width="39.9" height="1.6" fill="#48a494"/>
<rect x="719.5" y="1242.8" width="39.9" height="1.6" fill="#48a494"/>
<rect x="719.5" y="1251" width="39.9" height="1.6" fill="#48a494"/>
<rect x="719.5" y="1259.8" width="39.9" height="2.4" fill="#de7f64"/>
<rect x="719.5" y="1268.6" width="39.9" height="1.6" fill="#48a494"/>
<rect x="719.5" y="1274.2" width="39.9" height="1.6" fill="#48a494"/>
<rect x="719.5" y="1280.6" width="39.9" height="1.6" fill="#48a494"/>
<rect x="719.5" y="1283.6" width="39.9" height="1.6" fill="#48a494"/>
<rect x="719.5" y="1290" width="39.9" height="3" fill="#2ea597"/>
<rect x="719.5" y="1296.4" width="39.9" height="1.6" fill="#48a494"/>
<rect x="719.5" y="1302.2" width="39.9" height="1.6" fill="#48a494"/>
<rect x="719.5" y="1349.2" width="39.9" height="1.6" fill="#48a494"/>
<rect x="719.5" y="1359" width="39.9" height="1.6" fill="#48a494"/>
<rect x="719.5" y="1364.6" width="39.9" height="1.6" fill="#48a494"/>
<rect x="719.5" y="1417" width="39.9" height="1.6" fill="#de7f64"/>
<rect x="719.5" y="1441.8" width="39.9" height="1.6" fill="#de7f64"/>
<rect x="718.6" y="1110.3" width="41.7" height="363.7" class="bx"/>
<text x="805.11" y="1091.5" class="lb">chr12</text>
<rect x="785.16" y="1110.8" width="39.9" height="1.6" fill="#de7f64"/>
<rect x="785.16" y="1128.6" width="39.9" height="1.6" fill="#de7f64"/>
<rect x="785.16" y="1173.8" width="39.9" height="1.6" fill="#48a494"/>
<rect x="785.16" y="1183.7" width="39.9" height="2.2" fill="#2ea597"/>
<rect x="785.16" y="1199.15" width="39.9" height="1.3" fill="#48a494"/>
<rect x="785.16" y="1201.95" width="39.9" height="1.3" fill="#48a494"/>
<rect x="785.16" y="1237.8" width="39.9" height="1.6" fill="#48a494"/>
<rect x="785.16" y="1246.95" width="39.9" height="1.3" fill="#48a494"/>
<rect x="785.16" y="1249.75" width="39.9" height="1.3" fill="#48a494"/>
<rect x="785.16" y="1262.8" width="39.9" height="1.6" fill="#48a494"/>
<rect x="785.16" y="1278.5" width="39.9" height="2.2" fill="#2ea597"/>
<rect x="785.16" y="1309.6" width="39.9" height="1.6" fill="#48a494"/>
<rect x="785.16" y="1340.2" width="39.9" height="1.6" fill="#48a494"/>
<rect x="785.16" y="1378.8" width="39.9" height="1.6" fill="#48a494"/>
<rect x="785.16" y="1410.6" width="39.9" height="1.6" fill="#48a494"/>
<rect x="784.26" y="1110.3" width="41.7" height="310.3" class="bx"/>
<text x="870.77" y="1091.5" class="lb">chr13</text>
<rect x="850.82" y="1117.2" width="39.9" height="1.6" fill="#de7f64"/>
<rect x="850.82" y="1122.6" width="39.9" height="1.6" fill="#48a494"/>
<rect x="850.82" y="1180" width="39.9" height="1.6" fill="#48a494"/>
<rect x="850.82" y="1216" width="39.9" height="1.6" fill="#de7f64"/>
<rect x="850.82" y="1228.4" width="39.9" height="1.6" fill="#48a494"/>
<rect x="850.82" y="1236.4" width="39.9" height="1.6" fill="#48a494"/>
<rect x="850.82" y="1252.2" width="39.9" height="1.6" fill="#48a494"/>
<rect x="850.82" y="1262.4" width="39.9" height="1.6" fill="#de7f64"/>
<rect x="850.82" y="1268.4" width="39.9" height="1.6" fill="#48a494"/>
<rect x="850.82" y="1275.8" width="39.9" height="1.6" fill="#de7f64"/>
<rect x="850.82" y="1277.8" width="39.9" height="1.6" fill="#48a494"/>
<rect x="850.82" y="1296.9" width="39.9" height="3" fill="#2ea597"/>
<rect x="850.82" y="1314.4" width="39.9" height="1.6" fill="#48a494"/>
<rect x="850.82" y="1354.2" width="39.9" height="1.6" fill="#48a494"/>
<rect x="850.82" y="1378.6" width="39.9" height="1.6" fill="#48a494"/>
<rect x="849.92" y="1110.3" width="41.7" height="272.3" class="bx"/>
<text x="936.43" y="1091.5" class="lb">chr14</text>
<rect x="916.48" y="1122.6" width="39.9" height="1.6" fill="#de7f64"/>
<rect x="916.48" y="1138.6" width="39.9" height="1.6" fill="#48a494"/>
<rect x="916.48" y="1148.9" width="39.9" height="3" fill="#de7f64"/>
<rect x="916.48" y="1188" width="39.9" height="1.6" fill="#48a494"/>
<rect x="916.48" y="1200.8" width="39.9" height="1.6" fill="#48a494"/>
<rect x="916.48" y="1225.2" width="39.9" height="1.6" fill="#48a494"/>
<rect x="916.48" y="1259.8" width="39.9" height="2.4" fill="#2ea597"/>
<rect x="916.48" y="1263.8" width="39.9" height="1.6" fill="#48a494"/>
<rect x="916.48" y="1305.8" width="39.9" height="1.6" fill="#de7f64"/>
<rect x="915.58" y="1110.3" width="41.7" height="237.3" class="bx"/>
<text x="82.85" y="1576.5" class="lb">chr15</text>
<rect x="62.9" y="1631.8" width="39.9" height="2.4" fill="#de7f64"/>
<rect x="62.9" y="1640.4" width="39.9" height="1.6" fill="#48a494"/>
<rect x="62.9" y="1650.2" width="39.9" height="1.6" fill="#48a494"/>
<rect x="62.9" y="1665.6" width="39.9" height="1.6" fill="#48a494"/>
<rect x="62.9" y="1677.2" width="39.9" height="1.6" fill="#48a494"/>
<rect x="62.9" y="1692" width="39.9" height="1.6" fill="#de7f64"/>
<rect x="62.9" y="1707.9" width="39.9" height="2.2" fill="#2ea597"/>
<rect x="62.9" y="1725.3" width="39.9" height="3" fill="#2ea597"/>
<rect x="62.9" y="1737.2" width="39.9" height="1.6" fill="#48a494"/>
<rect x="62.9" y="1739.2" width="39.9" height="1.6" fill="#48a494"/>
<rect x="62.9" y="1762.4" width="39.9" height="1.6" fill="#48a494"/>
<rect x="62.9" y="1766.8" width="39.9" height="1.6" fill="#48a494"/>
<rect x="62.9" y="1772.2" width="39.9" height="1.6" fill="#48a494"/>
<rect x="62.9" y="1815.6" width="39.9" height="1.6" fill="#de7f64"/>
<rect x="62.9" y="1822.4" width="39.9" height="1.6" fill="#de7f64"/>
<rect x="62.9" y="1831.4" width="39.9" height="1.6" fill="#48a494"/>
<rect x="62" y="1596.5" width="41.7" height="293.9" class="bx"/>
<text x="148.51" y="1576.5" class="lb">chr16</text>
<rect x="128.56" y="1600.2" width="39.9" height="1.6" fill="#de7f64"/>
<rect x="128.56" y="1639.5" width="39.9" height="2.2" fill="#2ea597"/>
<rect x="128.56" y="1641.8" width="39.9" height="1.6" fill="#48a494"/>
<rect x="128.56" y="1644.2" width="39.9" height="1.6" fill="#48a494"/>
<rect x="128.56" y="1662.4" width="39.9" height="1.6" fill="#de7f64"/>
<rect x="128.56" y="1665.2" width="39.9" height="1.6" fill="#48a494"/>
<rect x="128.56" y="1670.2" width="39.9" height="1.6" fill="#48a494"/>
<rect x="128.56" y="1681.8" width="39.9" height="1.6" fill="#48a494"/>
<rect x="128.56" y="1694.4" width="39.9" height="1.6" fill="#48a494"/>
<rect x="128.56" y="1745.2" width="39.9" height="1.6" fill="#48a494"/>
<rect x="128.56" y="1797.2" width="39.9" height="1.6" fill="#de7f64"/>
<rect x="127.66" y="1596.5" width="41.7" height="230.1" class="bx"/>
<text x="214.17" y="1576.5" class="lb">chr17</text>
<rect x="194.22" y="1597.6" width="39.9" height="1.6" fill="#48a494"/>
<rect x="194.22" y="1630.2" width="39.9" height="1.6" fill="#de7f64"/>
<rect x="194.22" y="1644.2" width="39.9" height="1.6" fill="#48a494"/>
<rect x="194.22" y="1648.6" width="39.9" height="1.6" fill="#48a494"/>
<rect x="194.22" y="1670.6" width="39.9" height="1.6" fill="#48a494"/>
<rect x="194.22" y="1769.2" width="39.9" height="1.6" fill="#48a494"/>
<rect x="194.22" y="1772.4" width="39.9" height="1.6" fill="#48a494"/>
<rect x="194.22" y="1777.4" width="39.9" height="1.6" fill="#48a494"/>
<rect x="194.22" y="1788.8" width="39.9" height="1.6" fill="#48a494"/>
<rect x="194.22" y="1791.6" width="39.9" height="1.6" fill="#48a494"/>
<rect x="194.22" y="1806.8" width="39.9" height="1.6" fill="#de7f64"/>
<rect x="194.22" y="1815.2" width="39.9" height="1.6" fill="#48a494"/>
<rect x="194.22" y="1846.4" width="39.9" height="1.6" fill="#de7f64"/>
<rect x="193.32" y="1596.5" width="41.7" height="277.5" class="bx"/>
<text x="279.83" y="1576.5" class="lb">chr18</text>
<rect x="259.88" y="1616.2" width="39.9" height="1.6" fill="#de7f64"/>
<rect x="259.88" y="1669.3" width="39.9" height="2.2" fill="#de7f64"/>
<rect x="259.88" y="1677" width="39.9" height="1.6" fill="#de7f64"/>
<rect x="259.88" y="1718" width="39.9" height="1.6" fill="#48a494"/>
<rect x="259.88" y="1722.8" width="39.9" height="1.6" fill="#48a494"/>
<rect x="259.88" y="1746.4" width="39.9" height="1.6" fill="#48a494"/>
<rect x="259.88" y="1754.6" width="39.9" height="1.6" fill="#48a494"/>
<rect x="259.88" y="1762.4" width="39.9" height="1.6" fill="#48a494"/>
<rect x="259.88" y="1774.8" width="39.9" height="1.6" fill="#48a494"/>
<rect x="259.88" y="1825.8" width="39.9" height="1.6" fill="#48a494"/>
<rect x="259.88" y="1832.1" width="39.9" height="2.2" fill="#2ea597"/>
<rect x="259.88" y="1845.6" width="39.9" height="1.6" fill="#de7f64"/>
<rect x="258.98" y="1596.5" width="41.7" height="251.5" class="bx"/>
<text x="345.49" y="1576.5" class="lb">chr19</text>
<rect x="325.54" y="1640.2" width="39.9" height="1.6" fill="#48a494"/>
<rect x="325.54" y="1648.6" width="39.9" height="1.6" fill="#de7f64"/>
<rect x="325.54" y="1663" width="39.9" height="1.6" fill="#48a494"/>
<rect x="325.54" y="1671.8" width="39.9" height="1.6" fill="#48a494"/>
<rect x="325.54" y="1703.3" width="39.9" height="2.2" fill="#2ea597"/>
<rect x="325.54" y="1706.8" width="39.9" height="1.6" fill="#48a494"/>
<rect x="325.54" y="1718.8" width="39.9" height="1.6" fill="#de7f64"/>
<rect x="325.54" y="1786.8" width="39.9" height="1.6" fill="#48a494"/>
<rect x="325.54" y="1793.4" width="39.9" height="1.6" fill="#48a494"/>
<rect x="325.54" y="1810" width="39.9" height="1.6" fill="#48a494"/>
<rect x="324.64" y="1596.5" width="41.7" height="229.1" class="bx"/>
<text x="411.15" y="1576.5" class="lb">chr20</text>
<rect x="391.2" y="1626.8" width="39.9" height="1.6" fill="#de7f64"/>
<rect x="391.2" y="1658.2" width="39.9" height="1.6" fill="#de7f64"/>
<rect x="391.2" y="1675.2" width="39.9" height="1.6" fill="#48a494"/>
<rect x="391.2" y="1707.7" width="39.9" height="2.2" fill="#2ea597"/>
<rect x="391.2" y="1711.8" width="39.9" height="1.6" fill="#de7f64"/>
<rect x="391.2" y="1726.8" width="39.9" height="1.6" fill="#48a494"/>
<rect x="391.2" y="1756" width="39.9" height="1.6" fill="#de7f64"/>
<rect x="391.2" y="1794.4" width="39.9" height="1.6" fill="#48a494"/>
<rect x="390.3" y="1596.5" width="41.7" height="221.5" class="bx"/>
<text x="476.81" y="1576.5" class="lb">chr21</text>
<rect x="456.86" y="1620.2" width="39.9" height="1.6" fill="#de7f64"/>
<rect x="456.86" y="1640" width="39.9" height="1.6" fill="#de7f64"/>
<rect x="456.86" y="1711" width="39.9" height="1.6" fill="#48a494"/>
<rect x="456.86" y="1796.2" width="39.9" height="1.6" fill="#48a494"/>
<rect x="455.96" y="1596.5" width="41.7" height="277.5" class="bx"/>
<text x="542.47" y="1576.5" class="lb">chr22</text>
<rect x="522.52" y="1614.4" width="39.9" height="1.6" fill="#48a494"/>
<rect x="522.52" y="1629.6" width="39.9" height="1.6" fill="#de7f64"/>
<rect x="522.52" y="1649" width="39.9" height="1.6" fill="#48a494"/>
<rect x="522.52" y="1668.4" width="39.9" height="1.6" fill="#48a494"/>
<rect x="522.52" y="1682.2" width="39.9" height="1.6" fill="#48a494"/>
<rect x="522.52" y="1688.4" width="39.9" height="1.6" fill="#48a494"/>
<rect x="522.52" y="1728" width="39.9" height="1.6" fill="#48a494"/>
<rect x="522.52" y="1740.4" width="39.9" height="1.6" fill="#de7f64"/>
<rect x="522.52" y="1808.4" width="39.9" height="1.6" fill="#de7f64"/>
<rect x="522.52" y="1823.2" width="39.9" height="1.6" fill="#48a494"/>
<rect x="522.52" y="1845.8" width="39.9" height="1.6" fill="#48a494"/>
<rect x="522.52" y="1876.8" width="39.9" height="2.4" fill="#2ea597"/>
<rect x="522.52" y="1878.8" width="39.9" height="1.6" fill="#48a494"/>
<rect x="522.52" y="1886.6" width="39.9" height="1.6" fill="#48a494"/>
<rect x="521.62" y="1596.5" width="41.7" height="351.5" class="bx"/>
<text x="608.13" y="1576.5" class="lb">chr23</text>
<rect x="588.18" y="1598.8" width="39.9" height="1.6" fill="#48a494"/>
<rect x="588.18" y="1628.8" width="39.9" height="1.6" fill="#48a494"/>
<rect x="588.18" y="1660.2" width="39.9" height="1.6" fill="#de7f64"/>
<rect x="588.18" y="1699" width="39.9" height="1.6" fill="#48a494"/>
<rect x="588.18" y="1727.9" width="39.9" height="2.2" fill="#2ea597"/>
<rect x="588.18" y="1734.4" width="39.9" height="1.6" fill="#de7f64"/>
<rect x="588.18" y="1736.6" width="39.9" height="1.6" fill="#de7f64"/>
<rect x="588.18" y="1781.2" width="39.9" height="1.6" fill="#48a494"/>
<rect x="588.18" y="1796.6" width="39.9" height="1.6" fill="#de7f64"/>
<rect x="588.18" y="1802.4" width="39.9" height="1.6" fill="#48a494"/>
<rect x="588.18" y="1822.4" width="39.9" height="1.6" fill="#48a494"/>
<rect x="588.18" y="1843.4" width="39.9" height="1.6" fill="#de7f64"/>
<rect x="588.18" y="1846.2" width="39.9" height="1.6" fill="#de7f64"/>
<rect x="588.18" y="1864.8" width="39.9" height="1.6" fill="#48a494"/>
<rect x="588.18" y="1883.2" width="39.9" height="1.6" fill="#48a494"/>
<rect x="588.18" y="1926.4" width="39.9" height="1.6" fill="#48a494"/>
<rect x="588.18" y="1930.2" width="39.9" height="1.6" fill="#48a494"/>
<rect x="588.18" y="1934.2" width="39.9" height="1.6" fill="#48a494"/>
<rect x="587.28" y="1596.5" width="41.7" height="346.9" class="bx"/>
<text x="673.79" y="1576.5" class="lb">chr24</text>
<rect x="653.84" y="1608.7" width="39.9" height="3" fill="#de7f64"/>
<rect x="653.84" y="1635.4" width="39.9" height="1.6" fill="#48a494"/>
<rect x="653.84" y="1715" width="39.9" height="1.6" fill="#48a494"/>
<rect x="653.84" y="1718" width="39.9" height="1.6" fill="#de7f64"/>
<rect x="653.84" y="1721" width="39.9" height="1.6" fill="#48a494"/>
<rect x="653.84" y="1730.2" width="39.9" height="1.6" fill="#48a494"/>
<rect x="653.84" y="1734.4" width="39.9" height="1.6" fill="#48a494"/>
<rect x="653.84" y="1796.4" width="39.9" height="1.6" fill="#de7f64"/>
<rect x="653.84" y="1801.4" width="39.9" height="1.6" fill="#de7f64"/>
<rect x="653.84" y="1834.8" width="39.9" height="1.6" fill="#de7f64"/>
<rect x="652.94" y="1596.5" width="41.7" height="279.5" class="bx"/>
<text x="739.45" y="1576.5" class="lb">chr25</text>
<rect x="719.5" y="1600" width="39.9" height="1.6" fill="#48a494"/>
<rect x="719.5" y="1626.6" width="39.9" height="1.6" fill="#de7f64"/>
<rect x="719.5" y="1630" width="39.9" height="1.6" fill="#48a494"/>
<rect x="719.5" y="1658.4" width="39.9" height="1.6" fill="#de7f64"/>
<rect x="719.5" y="1682.2" width="39.9" height="1.6" fill="#48a494"/>
<rect x="719.5" y="1689" width="39.9" height="1.6" fill="#de7f64"/>
<rect x="719.5" y="1693.2" width="39.9" height="2.4" fill="#2ea597"/>
<rect x="719.5" y="1697" width="39.9" height="1.6" fill="#48a494"/>
<rect x="719.5" y="1722.2" width="39.9" height="1.6" fill="#48a494"/>
<rect x="719.5" y="1760.2" width="39.9" height="1.6" fill="#48a494"/>
<rect x="719.5" y="1773" width="39.9" height="1.6" fill="#48a494"/>
<rect x="719.5" y="1787.2" width="39.9" height="1.6" fill="#48a494"/>
<rect x="719.5" y="1838.4" width="39.9" height="1.6" fill="#48a494"/>
<rect x="718.6" y="1596.5" width="41.7" height="250.1" class="bx"/>
<text x="805.11" y="1576.5" class="lb">chr26</text>
<rect x="785.16" y="1599.4" width="39.9" height="1.6" fill="#de7f64"/>
<rect x="785.16" y="1602" width="39.9" height="1.6" fill="#48a494"/>
<rect x="785.16" y="1630" width="39.9" height="1.6" fill="#48a494"/>
<rect x="785.16" y="1650.4" width="39.9" height="1.6" fill="#de7f64"/>
<rect x="785.16" y="1656.8" width="39.9" height="1.6" fill="#de7f64"/>
<rect x="785.16" y="1663.4" width="39.9" height="1.6" fill="#48a494"/>
<rect x="785.16" y="1702.2" width="39.9" height="1.6" fill="#48a494"/>
<rect x="785.16" y="1736.6" width="39.9" height="1.6" fill="#de7f64"/>
<rect x="785.16" y="1740" width="39.9" height="1.6" fill="#48a494"/>
<rect x="784.26" y="1596.5" width="41.7" height="184.9" class="bx"/>
<text x="870.77" y="1576.5" class="lb">chr27</text>
<rect x="850.82" y="1606.2" width="39.9" height="1.6" fill="#de7f64"/>
<rect x="850.82" y="1647.1" width="39.9" height="2.2" fill="#de7f64"/>
<rect x="850.82" y="1657.8" width="39.9" height="1.6" fill="#48a494"/>
<rect x="850.82" y="1663.8" width="39.9" height="1.6" fill="#de7f64"/>
<rect x="850.82" y="1727.2" width="39.9" height="1.6" fill="#48a494"/>
<rect x="850.82" y="1755.2" width="39.9" height="1.6" fill="#48a494"/>
<rect x="849.92" y="1596.5" width="41.7" height="218.1" class="bx"/>
<text x="936.43" y="1576.5" class="lb">chr28</text>
<rect x="916.48" y="1598.8" width="39.9" height="1.6" fill="#48a494"/>
<rect x="916.48" y="1620.2" width="39.9" height="1.6" fill="#48a494"/>
<rect x="916.48" y="1626.5" width="39.9" height="2.2" fill="#de7f64"/>
<rect x="916.48" y="1762" width="39.9" height="1.6" fill="#de7f64"/>
<rect x="916.48" y="1772.1" width="39.9" height="2.2" fill="#2ea597"/>
<rect x="916.48" y="1777.2" width="39.9" height="1.6" fill="#de7f64"/>
<rect x="915.58" y="1596.5" width="41.7" height="185.1" class="bx"/>
</svg>
</body></html>
